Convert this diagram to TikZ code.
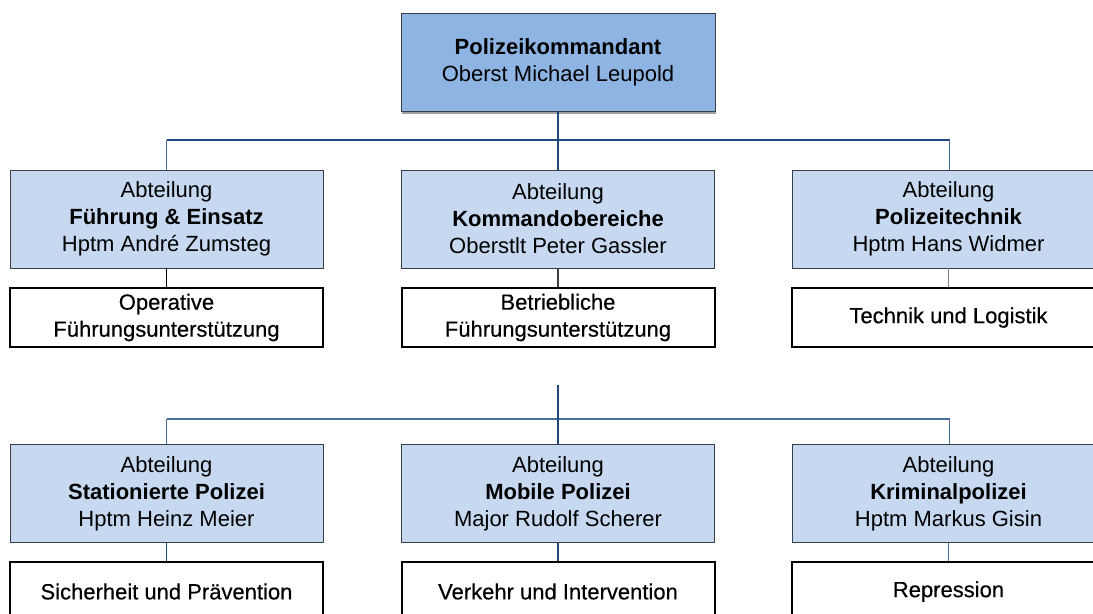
\documentclass[tikz,border=0pt]{standalone}
\usepackage{fontspec}
\setmainfont{Liberation Sans}
\newfontfamily\unitfont{Liberation Sans}[FakeBold=0.4]
\usetikzlibrary{calc}
\definecolor{chieffill}{HTML}{8EB4E3}
\definecolor{deptfill}{HTML}{C6D9F1}
\definecolor{boxline}{HTML}{3A3F46}
\definecolor{trunkc}{HTML}{1F497D}
\definecolor{barc}{HTML}{4A6E9E}
\definecolor{shadowc}{HTML}{A0A0A0}
\begin{document}
\begin{tikzpicture}[x=0.75pt,y=-0.75pt,
  every node/.style={font=\fontsize{16.5}{20.25}\selectfont, align=center, inner sep=0pt, text=black},
  chief/.style={draw=boxline, fill=chieffill, line width=0.6pt, minimum width=235.5pt, minimum height=73.5pt},
  dept/.style={draw=boxline, fill=deptfill, line width=0.6pt, minimum width=234.75pt, minimum height=73.5pt},
  unit/.style={draw=black, fill=white, line width=1.5pt, minimum width=234.75pt, minimum height=44.25pt,
    font=\unitfont\fontsize{16.5}{20.25}\selectfont},
  trunk/.style={draw=trunkc, line width=1.6pt},
  bar/.style={draw=trunkc, line width=1.2pt},
  barthin/.style={draw=barc, line width=1pt},
  drop/.style={draw=barc, line width=0.9pt},
  link/.style={draw=#1, line width=1pt}]
\useasboundingbox (0,0) rectangle (1093,614);
\clip (0,0) rectangle (1093,614);
% junction coordinates
\coordinate (j1l) at (166.5,140);
\coordinate (j1r) at (949.5,140);
\coordinate (s2) at (558,385);
\coordinate (j2l) at (166.5,419);
\coordinate (j2r) at (949.5,419);
% connectors (drawn first, boxes on top)
\draw[bar] (j1l) -- (j1r);
\draw[barthin] (j2l) -- (j2r);
% top
\node[chief] (pk) at (558,62) {\textbf{Polizeikommandant}\\Oberst Michael Leupold};
\fill[shadowc] ($(pk.south west)+(1,0.5)$) rectangle ($(pk.south east)+(1,2.5)$);
% row 1
\node[dept] (fe) at (166.5,219) {Abteilung\\\textbf{Führung \& Einsatz}\\Hptm André Zumsteg};
\node[dept] (kb) at (558,219) {Abteilung\\\textbf{Kommandobereiche}\\Oberstlt Peter Gassler};
\node[dept] (pt) at (948.5,219) {Abteilung\\\textbf{Polizeitechnik}\\Hptm Hans Widmer};
\node[unit] (ofu) at (166.5,317.5) {Operative\\Führungsunterstützung};
\node[unit] (bfu) at (558,317.5) {Betriebliche\\Führungsunterstützung};
\node[unit] (tl) at (948.5,317.5) {Technik und Logistik};
% row 2
\node[dept] (sp) at (166.5,493.5) {Abteilung\\\textbf{Stationierte Polizei}\\Hptm Heinz Meier};
\node[dept] (mp) at (558,493.5) {Abteilung\\\textbf{Mobile Polizei}\\Major Rudolf Scherer};
\node[dept] (kp) at (948.5,493.5) {Abteilung\\\textbf{Kriminalpolizei}\\Hptm Markus Gisin};
\node[unit] (sup) at (166.5,591.5) {Sicherheit und Prävention};
\node[unit] (vi) at (558,591.5) {Verkehr und Intervention};
\node[unit] (rep) at (948.5,591.5) {Repression};
% vertical connectors
\draw[trunk] (pk.south) -- (kb.north);
\draw[drop] (j1l) -- (fe.north);
\draw[drop] (j1r) -- (j1r |- pt.north);
\draw[trunk] (s2) -- (mp.north);
\draw[drop] (j2l) -- (sp.north);
\draw[drop] (j2r) -- (j2r |- kp.north);
\draw[link=black] (fe.south) -- (ofu.north);
\draw[link=boxline] (kb.south) -- (bfu.north);
\draw[link=gray] (pt.south) -- (tl.north);
\draw[link=trunkc] (sp.south) -- (sup.north);
\draw[link=trunkc] (mp.south) -- (vi.north);
\draw[link=barc] (kp.south) -- (rep.north);
\end{tikzpicture}
\end{document}
